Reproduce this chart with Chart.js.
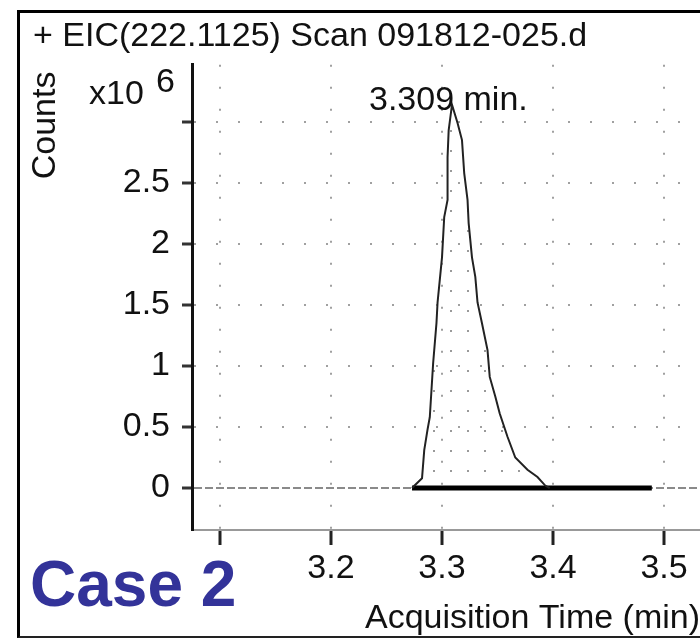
<!DOCTYPE html>
<html>
<head>
<meta charset="utf-8">
<script src="https://cdn.jsdelivr.net/npm/chart.js@4.4.1/dist/chart.umd.min.js"></script>
<style>
    html, body { margin: 0; padding: 0; background: #fff; }
    #wrap { position: relative; width: 700px; height: 639px; overflow: hidden; font-family: "Liberation Sans", Arial, sans-serif; }
    #frame { position: absolute; left: 17px; top: 10px; width: 700px; height: 623px; border-left: 3px solid #000; border-top: 3px solid #000; border-bottom: 2px solid #222; }
    canvas { position: absolute; left: 0; top: 0; }
    .note { position: absolute; font-size: 34px; line-height: 34px; color: #111; white-space: nowrap; }
    #case-label { font-weight: bold; font-size: 64px; line-height: 64px; color: #333399; }
</style>
</head>
<body>
<div id="wrap">
    <div id="frame"></div>
    <canvas id="eic-chart" width="700" height="639"></canvas>
    <div class="note" style="left:89px;top:75px">x10</div>
    <div class="note" style="left:156px;top:63px">6</div>
    <div class="note" style="left:369px;top:81px">3.309 min.</div>
    <div class="note" id="case-label" style="left:30px;top:552px">Case 2</div>
</div>
<script>
// Peak trace (acquisition time in min, counts x10^6)
const peakTimes = [3.273, 3.282, 3.284, 3.287, 3.289, 3.292, 3.295, 3.296, 3.300, 3.302,
    3.305, 3.305, 3.306, 3.309, 3.314, 3.318, 3.320, 3.323, 3.324, 3.327,
    3.330, 3.332, 3.336, 3.341, 3.343, 3.348, 3.352, 3.359, 3.366, 3.377,
    3.386, 3.393, 3.397];
const peakCounts = [0, 0.08, 0.31, 0.48, 0.58, 1.02, 1.35, 1.52, 1.89, 2.22,
    2.36, 2.71, 2.93, 3.14, 2.99, 2.85, 2.58, 2.36, 2.17, 1.89,
    1.73, 1.52, 1.35, 1.13, 0.91, 0.75, 0.61, 0.42, 0.25, 0.15,
    0.09, 0.02, 0];

// Integration baseline
const baseTimes = [3.273, 3.489];
const baseCounts = [0, 0];

// Axis ticks
const xTickValues = [3.1, 3.2, 3.3, 3.4, 3.5];
const xTickLabels = ['', '3.2', '3.3', '3.4', '3.5'];
const yTickValues = [0, 0.5, 1, 1.5, 2, 2.5, 3];
const yTickLabels = ['0', '0.5', '1', '1.5', '2', '2.5', ''];

const fontFamily = "'Liberation Sans', Arial, sans-serif";
const bigFont = { family: fontFamily, size: 34, weight: 'normal' };

// Stipple fill under the peak
function makeStipple() {
    const c = document.createElement('canvas');
    c.width = 17;
    c.height = 20;
    const g = c.getContext('2d');
    g.fillStyle = '#9a9a9a';
    g.fillRect(8, 10, 2, 2);
    return g.createPattern(c, 'repeat');
}

function toPoints(xs, ys) {
    return xs.map((x, i) => ({ x: x, y: ys[i] }));
}

function gridDash(ctx) {
    if (ctx.tick && ctx.tick.value === 0) return [8, 3];
    return [2, 20];
}

new Chart(document.getElementById('eic-chart'), {
    type: 'line',
    data: {
        datasets: [{
            label: 'EIC',
            data: toPoints(peakTimes, peakCounts),
            borderColor: '#222',
            borderWidth: 2,
            backgroundColor: makeStipple(),
            fill: 'origin',
            tension: 0,
            pointRadius: 0
        }, {
            label: 'Baseline',
            data: toPoints(baseTimes, baseCounts),
            borderColor: '#000',
            borderWidth: 5,
            fill: false,
            pointRadius: 0
        }]
    },
    options: {
        responsive: false,
        devicePixelRatio: 1,
        animation: false,
        layout: {
            padding: { left: 33, top: 0, right: 0, bottom: 0 }
        },
        plugins: {
            legend: { display: false },
            tooltip: { enabled: false },
            title: {
                display: true,
                text: '+ EIC(222.1125) Scan 091812-025.d',
                align: 'start',
                color: '#111',
                font: bigFont,
                padding: { top: 16, bottom: 8 }
            }
        },
        scales: {
            x: {
                type: 'linear',
                min: 3.0748,
                max: 3.5324,
                afterBuildTicks: (scale) => { scale.ticks = xTickValues.map(v => ({ value: v })); },
                afterFit: (scale) => { scale.height = 109; },
                ticks: {
                    autoSkip: false,
                    maxRotation: 0,
                    padding: 3,
                    color: '#111',
                    font: bigFont,
                    callback: (value, index) => xTickLabels[index]
                },
                grid: {
                    color: '#a0a0a0',
                    lineWidth: 2,
                    tickColor: '#222',
                    tickLength: 15,
                    tickWidth: 3
                },
                border: { color: '#999', width: 2, dash: [2, 20] },
                title: {
                    display: true,
                    text: 'Acquisition Time (min)',
                    align: 'end',
                    color: '#111',
                    font: bigFont,
                    padding: { top: 0, bottom: 0 }
                }
            },
            y: {
                min: -0.344,
                max: 3.467,
                afterBuildTicks: (scale) => { scale.ticks = yTickValues.map(v => ({ value: v })); },
                afterFit: (scale) => { scale.width = 159; },
                ticks: {
                    padding: 12,
                    color: '#111',
                    font: bigFont,
                    callback: (value, index) => yTickLabels[index]
                },
                grid: {
                    color: (ctx) => (ctx.tick && ctx.tick.value === 0) ? '#8a8a8a' : '#a0a0a0',
                    lineWidth: 2,
                    tickColor: '#333',
                    tickLength: 10,
                    tickWidth: 3
                },
                border: { color: '#111', width: 3, dash: gridDash },
                title: {
                    display: true,
                    text: 'Counts\u2009',
                    align: 'end',
                    color: '#111',
                    font: bigFont,
                    padding: { top: -8, bottom: 0 }
                }
            }
        }
    }
});
</script>
</body>
</html>
